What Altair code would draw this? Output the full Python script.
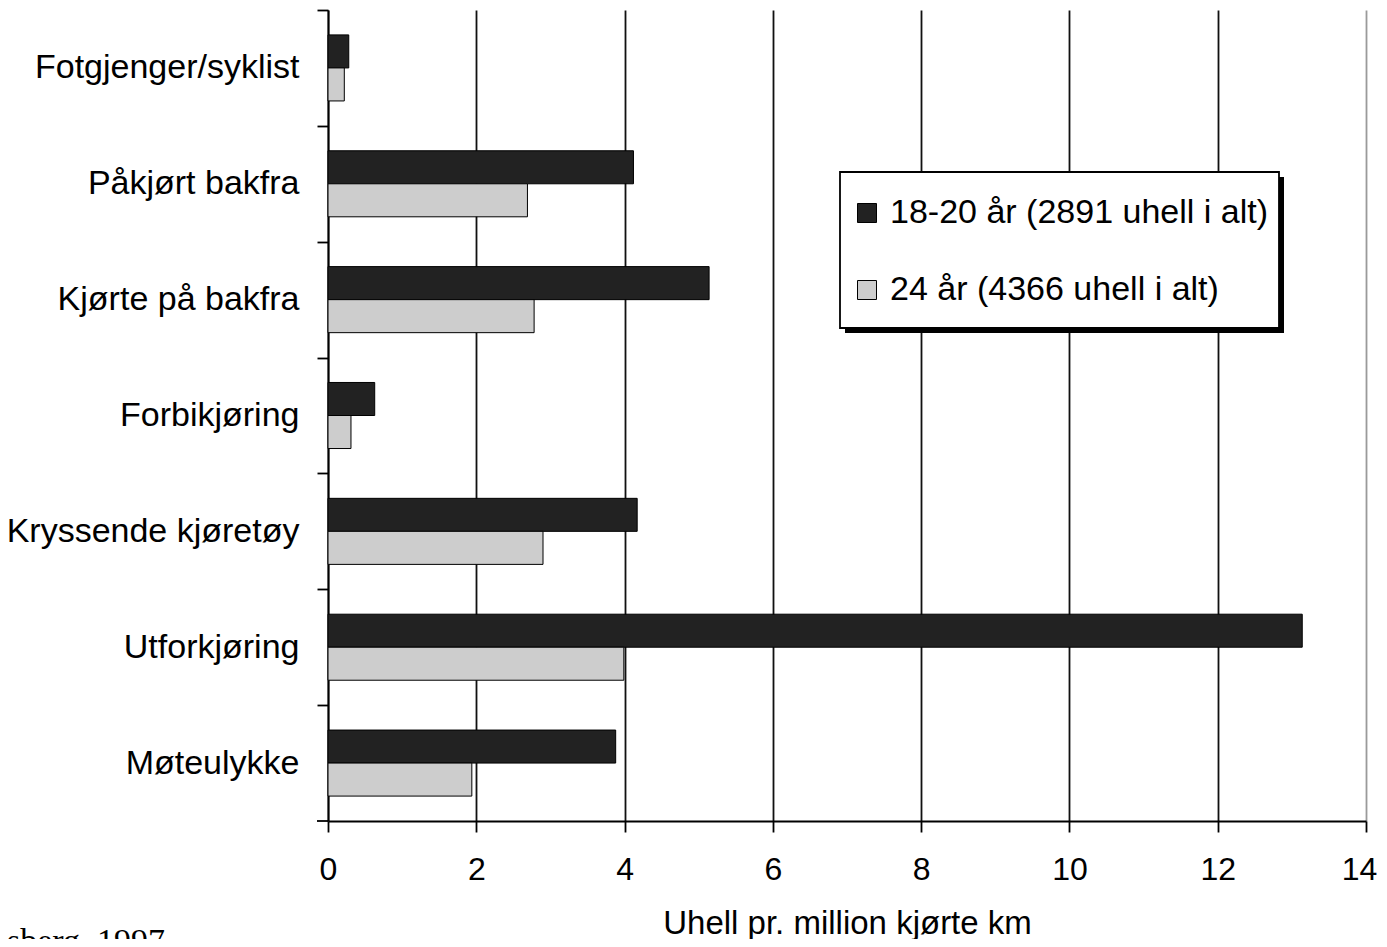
import altair as alt
import pandas as pd

categories = ["Fotgjenger/syklist", "Påkjørt bakfra", "Kjørte på bakfra",
              "Forbikjøring", "Kryssende kjøretøy", "Utforkjøring", "Møteulykke"]
series_names = ["18-20 år (2891 uhell i alt)", "24 år (4366 uhell i alt)"]
values_18_20 = [0.28, 4.12, 5.14, 0.63, 4.17, 13.14, 3.88]
values_24 = [0.22, 2.69, 2.78, 0.31, 2.90, 3.99, 1.94]
x_ticks = [0, 2, 4, 6, 8, 10, 12, 14]

rows = []
for c, a, b in zip(categories, values_18_20, values_24):
    rows.append({"kategori": c, "gruppe": series_names[0], "verdi": a})
    rows.append({"kategori": c, "gruppe": series_names[1], "verdi": b})
df = pd.DataFrame(rows)

W, H = 1038, 811
step = H / len(categories)
FONT = "Liberation Sans"

bars = alt.Chart(df).mark_bar(stroke="#000", strokeWidth=1).encode(
    x=alt.X("verdi:Q",
            scale=alt.Scale(domain=[0, 14], nice=False, zero=True),
            axis=alt.Axis(values=x_ticks, title="Uhell pr. million kjørte km",
                          grid=True,
                          gridColor=alt.condition("datum.value == 14", alt.value("#9a9a9a"), alt.value("#111111")),
                          gridWidth=1.8,
                          domainColor="#000", domainWidth=1.8,
                          tickColor="#000", tickWidth=1.8, tickSize=11,
                          labelFont=FONT, labelFontSize=32, labelColor="#000",
                          labelPadding=22, labelFlush=False,
                          labelOffset=alt.condition("datum.value == 14", alt.value(-7), alt.value(0)),
                          titleFont=FONT, titleFontSize=33, titleFontWeight="normal",
                          titleColor="#000", titlePadding=22)),
    y=alt.Y("kategori:N", sort=categories,
            scale=alt.Scale(paddingInner=0.43, paddingOuter=0.215),
            axis=alt.Axis(title=None, grid=False,
                          domainColor="#000", domainWidth=1.8,
                          tickColor="#000", tickWidth=1.8, tickSize=11,
                          tickOffset=-step / 2, labelOffset=step / 2,
                          labelFont=FONT, labelFontSize=34, labelColor="#000",
                          labelPadding=18, labelLimit=400)),
    yOffset=alt.YOffset("gruppe:N", sort=series_names),
    color=alt.Color("gruppe:N", sort=series_names,
                    scale=alt.Scale(domain=series_names, range=["#222222", "#cdcdcd"]),
                    legend=alt.Legend(title=None, orient="none", legendX=522, legendY=186,
                                      direction="vertical",
                                      padding=0, rowPadding=43,
                                      symbolType="square", symbolSize=361,
                                      symbolStrokeColor="#000", symbolStrokeWidth=1,
                                      labelFont=FONT, labelFontSize=34, labelColor="#000",
                                      labelOffset=6, labelLimit=600)),
)

one = pd.DataFrame({"a": [0]})
shadow = alt.Chart(one).mark_rect(color="#000").encode(
    x=alt.value(517), x2=alt.value(956), y=alt.value(167), y2=alt.value(323)
)
legend_box = alt.Chart(one).mark_rect(fill="#fff", stroke="#000", strokeWidth=1.8).encode(
    x=alt.value(512), x2=alt.value(951), y=alt.value(162), y2=alt.value(318)
)

bottom_tick = alt.Chart(one).mark_rule(color="#000", strokeWidth=1.8).encode(
    x=alt.value(-11), x2=alt.value(0), y=alt.value(H)
)

source = alt.Chart(pd.DataFrame({"t": ["sberg, 1997"]})).mark_text(
    font="Liberation Serif", fontSize=34, align="right", baseline="alphabetic", color="#000"
).encode(text="t:N", x=alt.value(-163), y=alt.value(942))

chart = alt.layer(shadow, legend_box, bars, bottom_tick, source).properties(
    width=W, height=H,
    autosize=alt.AutoSizeParams(type="none"),
    padding={"left": 320, "top": 2, "right": 13, "bottom": 118},
).configure_view(stroke=None)

chart.save("out.html", embed_options={"renderer": "svg", "actions": False})
